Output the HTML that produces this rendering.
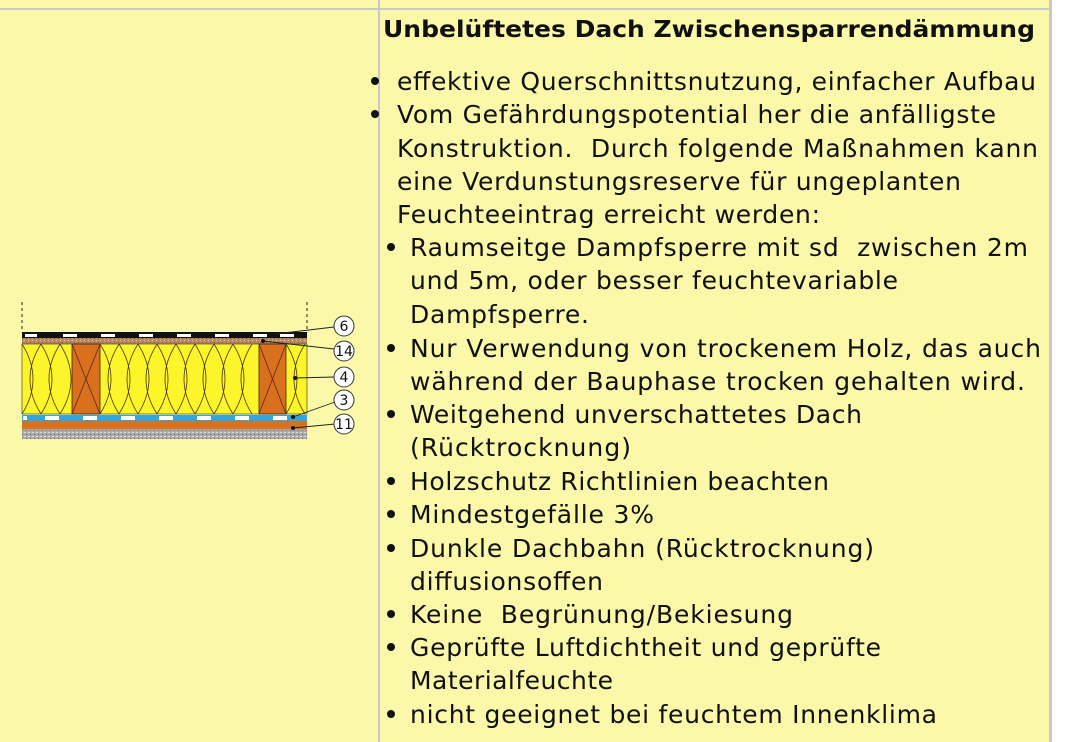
<!DOCTYPE html>
<html><head><meta charset="utf-8"><style>
html,body{margin:0;padding:0;background:#fff;}
svg{display:block;}
text{font-family:"DejaVu Sans","Liberation Sans",sans-serif;fill:#111;white-space:pre;}
</style></head><body>
<svg width="1072" height="742" xmlns="http://www.w3.org/2000/svg" xml:space="preserve">
<defs>
<pattern id="spk" width="4" height="4" patternUnits="userSpaceOnUse"><rect width="4" height="4" fill="#b98a62"/><rect x="0" y="0" width="1" height="1" fill="#e8c9a8"/><rect x="2" y="2" width="1" height="1" fill="#8a5a3a"/></pattern>
<pattern id="gry" width="4" height="4" patternUnits="userSpaceOnUse"><rect width="4" height="4" fill="#a9a9a9"/><rect x="0" y="0" width="2" height="1" fill="#e0e0e0"/><rect x="2" y="2" width="1" height="1" fill="#707070"/></pattern>
</defs>
<rect x="0" y="0" width="1051" height="742" fill="#fbf8a9"/>
<rect x="0" y="8" width="1051" height="2" fill="#c9c9cc"/>
<rect x="378" y="0" width="2" height="742" fill="#c9c9cc"/>
<rect x="1049" y="0" width="3" height="742" fill="#c9c9cc"/>

<!-- diagram -->
<line x1="22" y1="302" x2="22" y2="332" stroke="#222" stroke-dasharray="3,3"/>
<line x1="307" y1="302" x2="307" y2="332" stroke="#222" stroke-dasharray="3,3"/>
<rect x="22" y="332" width="285" height="6" fill="#111"/>
<g fill="#fff"><rect x="25" y="334" width="12" height="3"/><rect x="63" y="334" width="14" height="3"/><rect x="101" y="334" width="14" height="3"/><rect x="139" y="334" width="14" height="3"/><rect x="177" y="334" width="14" height="3"/><rect x="215" y="334" width="14" height="3"/><rect x="253" y="334" width="14" height="3"/><rect x="280" y="334" width="14" height="3"/></g>
<rect x="22" y="338" width="285" height="6" fill="url(#spk)"/>
<rect x="22" y="344" width="285" height="70" fill="#fbf52a" stroke="#333" stroke-width="0.6"/>
<g fill="none" stroke="#4a3a10" stroke-width="0.8">
<path d="M22,344 Q44,379 22,414 M41,344 Q19,379 41,414 M41,344 Q63,379 41,414 M60,344 Q38,379 60,414 M60,344 Q82,379 60,414"/>
<path d="M100,344 Q122,379 100,414 M119,344 Q97,379 119,414 M119,344 Q141,379 119,414 M138,344 Q116,379 138,414 M138,344 Q160,379 138,414 M157,344 Q135,379 157,414 M157,344 Q179,379 157,414 M176,344 Q154,379 176,414 M176,344 Q198,379 176,414 M195,344 Q173,379 195,414 M195,344 Q217,379 195,414 M214,344 Q192,379 214,414 M214,344 Q236,379 214,414 M233,344 Q211,379 233,414 M233,344 Q255,379 233,414 M252,344 Q230,379 252,414"/>
<path d="M286,344 Q308,379 286,414 M305,344 Q283,379 305,414"/>
</g>
<rect x="72" y="344" width="28" height="70" fill="#d9701e" stroke="#3a2010" stroke-width="0.8"/>
<path d="M72,344 L100,414 M100,344 L72,414" stroke="#5a2a10" stroke-width="0.8"/>
<rect x="259" y="344" width="27" height="70" fill="#d9701e" stroke="#3a2010" stroke-width="0.8"/>
<path d="M259,344 L286,414 M286,344 L259,414" stroke="#5a2a10" stroke-width="0.8"/>
<rect x="22" y="415" width="285" height="6" fill="#2fa8e0"/>
<g fill="#fff"><rect x="23" y="416" width="4" height="4"/><rect x="45" y="416" width="14" height="4"/><rect x="83" y="416" width="14" height="4"/><rect x="121" y="416" width="14" height="4"/><rect x="159" y="416" width="14" height="4"/><rect x="197" y="416" width="14" height="4"/><rect x="235" y="416" width="14" height="4"/><rect x="273" y="416" width="14" height="4"/></g>
<rect x="22" y="421" width="285" height="8" fill="#d9701e"/>
<rect x="22" y="429" width="285" height="10" fill="url(#gry)"/>
<g stroke="#222" stroke-width="0.9" fill="none">
<path d="M275,334 L334,327"/><path d="M263,341 L334,349"/><path d="M295,378 L334,377"/><path d="M293,417 L335,402"/><path d="M293,428 L335,424"/>
</g>
<g fill="#111"><circle cx="263" cy="341" r="2"/><circle cx="295" cy="378" r="2"/><circle cx="293" cy="417" r="2"/><circle cx="293" cy="428" r="2"/></g>
<g fill="#fff" stroke="#333" stroke-width="1">
<circle cx="344" cy="326" r="10"/><circle cx="344" cy="351" r="10"/><circle cx="344" cy="377" r="10"/><circle cx="344" cy="400" r="10"/><circle cx="344" cy="424" r="10"/>
</g>
<g font-size="14" text-anchor="middle" style="font-family:'Liberation Sans',sans-serif">
<text x="344" y="331">6</text><text x="344" y="356">14</text><text x="344" y="382">4</text><text x="344" y="405">3</text><text x="344" y="429">11</text>
</g>

<!-- text -->
<text x="383" y="37" font-size="23" font-weight="bold" textLength="652" lengthAdjust="spacingAndGlyphs">Unbelüftetes Dach Zwischensparrendämmung</text>
<g fill="#111"><circle cx="375" cy="81" r="4"/><circle cx="375" cy="114" r="4"/></g>
<g font-size="25" lengthAdjust="spacingAndGlyphs">
<text x="397" y="90" textLength="639">effektive Querschnittsnutzung, einfacher Aufbau</text>
<text x="397" y="123" textLength="599">Vom Gefährdungspotential her die anfälligste</text>
<text x="397" y="157" textLength="641">Konstruktion.  Durch folgende Maßnahmen kann</text>
<text x="397" y="190" textLength="564">eine Verdunstungsreserve für ungeplanten</text>
<text x="397" y="223" textLength="423">Feuchteeintrag erreicht werden:</text>
<text x="410" y="256" textLength="618">Raumseitge Dampfsperre mit sd  zwischen 2m</text>
<text x="410" y="289" textLength="488">und 5m, oder besser feuchtevariable</text>
<text x="410" y="323" textLength="179">Dampfsperre.</text>
<text x="410" y="357" textLength="631">Nur Verwendung von trockenem Holz, das auch</text>
<text x="410" y="390" textLength="615">während der Bauphase trocken gehalten wird.</text>
<text x="410" y="423" textLength="452">Weitgehend unverschattetes Dach</text>
<text x="410" y="456" textLength="221">(Rücktrocknung)</text>
<text x="410" y="490" textLength="419">Holzschutz Richtlinien beachten</text>
<text x="410" y="523" textLength="244">Mindestgefälle 3%</text>
<text x="410" y="557" textLength="464">Dunkle Dachbahn (Rücktrocknung)</text>
<text x="410" y="590" textLength="193">diffusionsoffen</text>
<text x="410" y="623" textLength="383">Keine  Begrünung/Bekiesung</text>
<text x="410" y="656" textLength="471">Geprüfte Luftdichtheit und geprüfte</text>
<text x="410" y="689" textLength="203">Materialfeuchte</text>
<text x="410" y="723" textLength="527">nicht geeignet bei feuchtem Innenklima</text>
</g>
<g fill="#111"><circle cx="391" cy="247" r="4"/><circle cx="391" cy="348" r="4"/><circle cx="391" cy="414" r="4"/><circle cx="391" cy="481" r="4"/><circle cx="391" cy="514" r="4"/><circle cx="391" cy="548" r="4"/><circle cx="391" cy="614" r="4"/><circle cx="391" cy="647" r="4"/><circle cx="391" cy="714" r="4"/></g>
</svg>
</body></html>
